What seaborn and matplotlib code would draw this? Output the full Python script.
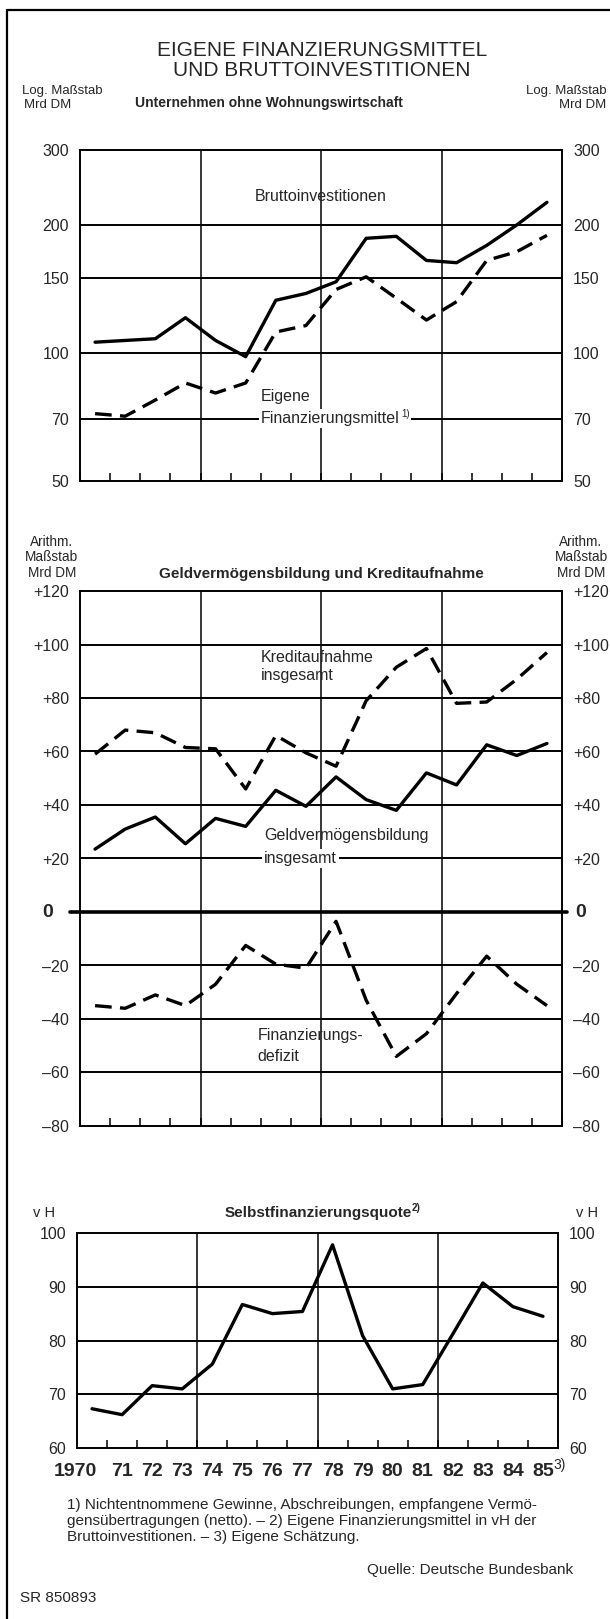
import numpy as np
import pandas as pd
import matplotlib
matplotlib.use("Agg")
import matplotlib.pyplot as plt
from matplotlib import font_manager
import seaborn as sns

# ---------- data ----------
years = list(range(1970, 1986))
year_labels = ["1970", "71", "72", "73", "74", "75", "76", "77", "78", "79",
               "80", "81", "82", "83", "84", "85"]

brutto = [106, 107, 108, 121, 107, 98, 133, 138, 147, 186, 188, 165, 163, 179, 200, 226]
eigene = [72, 71, 77.5, 85, 80.5, 85, 112, 116, 141, 151, 134.5, 119.5, 132, 165, 173, 189]

kredit = [59, 68, 67, 61.5, 61, 46, 66, 59.5, 54.5, 79, 91.5, 98.5, 78, 78.5, 87, 97]
geldverm = [23.5, 31, 35.5, 25.5, 35, 32, 45.5, 39.5, 50.5, 42, 38, 52, 47.5, 62.5, 58.5, 63]
defizit = [-35, -36, -31, -35, -27, -12.5, -19.5, -21, -3.5, -33, -54, -45.5, -30.5, -16.5, -27, -35]

quote = [67.3, 66.2, 71.6, 71, 75.6, 86.7, 85, 85.4, 97.8, 80.9, 71, 71.8, 81.2, 90.7, 86.3, 84.5]

log_ticks = [50, 70, 100, 150, 200, 300]
arith_ticks = [-80, -60, -40, -20, 0, 20, 40, 60, 80, 100, 120]
arith_labels = ["–80", "–60", "–40", "–20", "", "+20", "+40", "+60", "+80", "+100", "+120"]
quote_ticks = [60, 70, 80, 90, 100]

# ---------- style ----------
sns.set_style("white")
installed = {f.name for f in font_manager.fontManager.ttflist}
narrow = "Liberation Sans Narrow" if "Liberation Sans Narrow" in installed else "Liberation Sans"
FONT = [narrow, "DejaVu Sans"]
REG = ["Liberation Sans", "DejaVu Sans"]
plt.rcParams["font.family"] = REG
plt.rcParams["axes.linewidth"] = 1.4

W, H = 610, 1619
fig = plt.figure(figsize=(W / 100, H / 100), dpi=100)
fig.patch.set_facecolor("white")


def box(left, top, right, bottom):
    return [left / W, 1 - bottom / H, (right - left) / W, (bottom - top) / H]


def px(x, y):
    return x / W, 1 - y / H


xpos = [y - 1970 + 0.5 for y in years]
DASH = (5, 2.5)


def frame(ax, ticks, labels, ylim):
    ax.set_xlim(0, 16)
    ax.set_ylim(*ylim)
    ax.set_yticks(ticks)
    ax.set_yticklabels(labels)
    ax.yaxis.set_minor_locator(matplotlib.ticker.NullLocator())
    ax.set_xticks(range(17))
    ax.set_xticklabels([])
    ax.tick_params(axis="y", length=0, labelsize=11.5, labelleft=True, labelright=True, pad=8)
    ax.tick_params(axis="x", direction="in", length=6, width=1.3, top=False, bottom=True, labelbottom=False)
    for s in ax.spines.values():
        s.set_visible(True)
        s.set_color("black")
        s.set_linewidth(1.4)
    for v in ticks[1:-1]:
        ax.axhline(v, color="black", lw=1.4, zorder=1)
    for v in (4, 8, 12):
        ax.axvline(v, color="black", lw=1.1, zorder=1)
    ax.set_xlabel("")
    ax.set_ylabel("")


def draw(ax, series):
    rows = []
    for name, vals in series.items():
        for x, v in zip(xpos, vals):
            rows.append({"x": x, "v": v, "serie": name})
    df = pd.DataFrame(rows)
    dashes = {k: ("" if k.startswith("s_") else DASH) for k in series}
    sns.lineplot(data=df, x="x", y="v", style="serie", dashes=dashes, color="black",
                 lw=2.4, legend=False, ax=ax, zorder=3)


LBL = dict(fontsize=11.5, va="center", family=REG)
WHITE = dict(facecolor="white", edgecolor="none", pad=1.5)

# ---------- panel 1 ----------
ax1 = fig.add_axes(box(80, 150, 562, 481))
ax1.set_yscale("log")
draw(ax1, {"s_brutto": brutto, "d_eigene": eigene})
frame(ax1, log_ticks, [str(t) for t in log_ticks], (50, 300))

ax1.text(5.8, 233, "Bruttoinvestitionen", **LBL)
ax1.text(6.0, 79, "Eigene", **LBL)
t = ax1.text(6.0, 70, "Finanzierungsmittel", zorder=5, bbox=WHITE, **LBL)
ax1.annotate("1)", xy=(1, 0.5), xycoords=t, xytext=(1.5, 0), textcoords="offset points",
             fontsize=7, va="bottom", zorder=6, bbox=dict(facecolor="white", edgecolor="none", pad=0.5))

# ---------- panel 2 ----------
ax2 = fig.add_axes(box(80, 591, 562, 1126))
draw(ax2, {"d_kredit": kredit, "s_geld": geldverm, "d_defizit": defizit})
frame(ax2, arith_ticks, arith_labels, (-80, 120))
ax2.plot([-0.02, 1.01], [0, 0], transform=ax2.get_yaxis_transform(), color="black",
         lw=2.6, clip_on=False, zorder=2)
# bold zero labels, set apart from the extended zero line
fig.text(*px(48, 912), "0", ha="center", va="center", fontsize=14, fontweight="bold")
fig.text(*px(581, 912), "0", ha="center", va="center", fontsize=14, fontweight="bold")

ax2.text(6.0, 95, "Kreditaufnahme", **LBL)
ax2.text(6.0, 88.5, "insgesamt", **LBL)
ax2.text(6.1, 28.5, "Geldvermögensbildung", **LBL)
ax2.text(6.1, 20, "insgesamt", zorder=5, bbox=WHITE, **LBL)
ax2.text(5.9, -46, "Finanzierungs-", **LBL)
ax2.text(5.9, -54, "defizit", **LBL)

# ---------- panel 3 ----------
ax3 = fig.add_axes(box(77, 1233, 558, 1448))
draw(ax3, {"s_quote": quote})
frame(ax3, quote_ticks, [str(t) for t in quote_ticks], (60, 100))

ylab = -(1471 - 1448) / (1448 - 1233)
for i, lab in enumerate(year_labels):
    ha, x = ("right", 0.66) if i == 0 else ("center", i + 0.5)
    yt = ax3.text(x, ylab, lab, transform=ax3.get_xaxis_transform(),
                  fontsize=14, fontweight="bold", ha=ha, va="center", family=FONT)
    if i == 15:
        ax3.annotate("3)", xy=(1, 0.45), xycoords=yt, fontsize=10, va="bottom")

# ---------- headers ----------
fig.text(*px(322, 50), "EIGENE FINANZIERUNGSMITTEL", ha="center", va="center", fontsize=15)
fig.text(*px(322, 70), "UND BRUTTOINVESTITIONEN", ha="center", va="center", fontsize=15)
fig.text(*px(269, 103), "Unternehmen ohne Wohnungswirtschaft", ha="center", va="center",
         fontsize=10, fontweight="bold", family=FONT)
fig.text(*px(22, 91), "Log. Maßstab", ha="left", va="center", fontsize=9.5)
fig.text(*px(24, 105), "Mrd DM", ha="left", va="center", fontsize=9.5)
fig.text(*px(606, 91), "Log. Maßstab", ha="right", va="center", fontsize=9.5)
fig.text(*px(606, 105), "Mrd DM", ha="right", va="center", fontsize=9.5)

for y, s in zip((542, 557, 573), ("Arithm.", "Maßstab", "Mrd DM")):
    fig.text(*px(52, y), s, ha="center", va="center", fontsize=9.8)
    fig.text(*px(581, y), s, ha="center", va="center", fontsize=9.8)
fig.text(*px(321, 574), "Geldvermögensbildung und Kreditaufnahme", ha="center", va="center",
         fontsize=11, fontweight="bold", family=FONT)

fig.text(*px(44, 1213), "v H", ha="center", va="center", fontsize=10.5)
fig.text(*px(587, 1213), "v H", ha="center", va="center", fontsize=10.5)
st = fig.text(*px(318, 1213), "Selbstfinanzierungsquote", ha="center", va="center",
              fontsize=11, fontweight="bold", family=FONT)
ax3.annotate("2)", xy=(1, 0.5), xycoords=st, fontsize=7, va="bottom", fontweight="bold")

# ---------- footnotes ----------
notes = ["1) Nichtentnommene Gewinne, Abschreibungen, empfangene Vermö-",
         "gensübertragungen (netto). – 2) Eigene Finanzierungsmittel in vH der",
         "Bruttoinvestitionen. – 3) Eigene Schätzung."]
for y, s in zip((1505, 1521, 1537), notes):
    fig.text(*px(67, y), s, ha="left", va="center", fontsize=11)
fig.text(*px(573, 1570), "Quelle: Deutsche Bundesbank", ha="right", va="center", fontsize=11)
fig.text(*px(20, 1598), "SR 850893", ha="left", va="center", fontsize=11)

# scan frame
fig.add_artist(plt.Line2D([7 / W, 7 / W], [0, 1 - 10 / H], color="black", lw=1.6))
fig.add_artist(plt.Line2D([7 / W, 1], [1 - 10 / H, 1 - 10 / H], color="black", lw=1.6))

fig.savefig("out.png", dpi=100)
